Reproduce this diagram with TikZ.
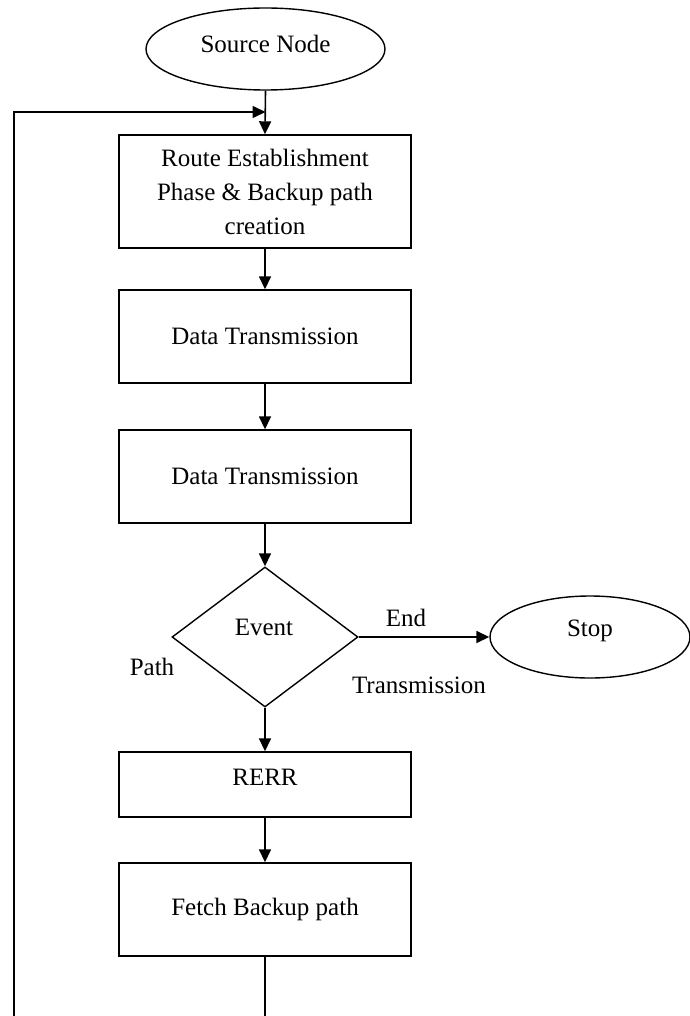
\documentclass[tikz,border=0pt]{standalone}
\usepackage{fontspec}
\setmainfont{Liberation Serif}
\usetikzlibrary{shapes.geometric,arrows.meta}
\begin{document}
\begin{tikzpicture}[x=1pt,y=-1pt,
  every node/.style={font=\fontsize{25}{34}\selectfont},
  line/.style={line width=1.6pt},
  arr/.style={line width=1.6pt,-{Triangle[length=13pt,width=12pt]}},
  procbox/.style={draw,line width=1.4pt,rectangle,minimum width=292pt,inner sep=0pt,align=center},
  term/.style={draw,line width=1.4pt,ellipse,minimum width=239pt,minimum height=82pt,inner sep=0pt},
  decision/.style={draw,line width=1.4pt,diamond,minimum width=186pt,minimum height=140pt,inner sep=0pt},
  txt/.style={inner sep=0pt}]
\useasboundingbox (0,0) rectangle (689,1016);
% shapes
\node[term] (src) at (265.5,49) {};
\node[txt] (srct) at (265.5,44) {Source Node};
\node[procbox,minimum height=113pt] (b1) at (265,191.5) {Route Establishment\\Phase \& Backup path\\creation};
\node[procbox,minimum height=93pt] (b2) at (265,336.5) {Data Transmission};
\node[procbox,minimum height=93pt] (b3) at (265,476.5) {Data Transmission};
\node[decision] (ev) at (265,637) {};
\node[txt] (evt) at (264,627) {Event};
\node[term,minimum width=200pt] (stop) at (590,637) {};
\node[txt] (stopt) at (590,631) {Stop};
\node[procbox,minimum height=65pt] (rerr) at (265,784.5) {};
\node[txt] (rerrt) at (265,777) {RERR};
\node[procbox,minimum height=93pt] (fetch) at (265,909.5) {Fetch Backup path};
% labels
\node[txt] (endl) at (406,618) {End};
\node[txt] (transl) at (419,685) {Transmission};
\node[txt] (pathl) at (152,667) {Path};
% connectors
\draw[arr] (src.south) -- (b1.north);
\draw[arr] (b1.south) -- (b2.north);
\draw[arr] (b2.south) -- (b3.north);
\draw[arr] (b3.south) -- (ev.north);
\draw[arr] (ev.east) -- (stop.west);
\draw[arr] (ev.south) -- (rerr.north);
\draw[arr] (rerr.south) -- (fetch.north);
\coordinate (fend) at (fetch.south |- 0,1016);
\draw[line] (fetch.south) -- (fend);
\coordinate (lb) at (14,1016);
\coordinate (lt) at (14,112);
\coordinate (lj) at (src.south |- 0,112);
\draw[arr] (lb) -- (lt) -- (lj);
\end{tikzpicture}
\end{document}
